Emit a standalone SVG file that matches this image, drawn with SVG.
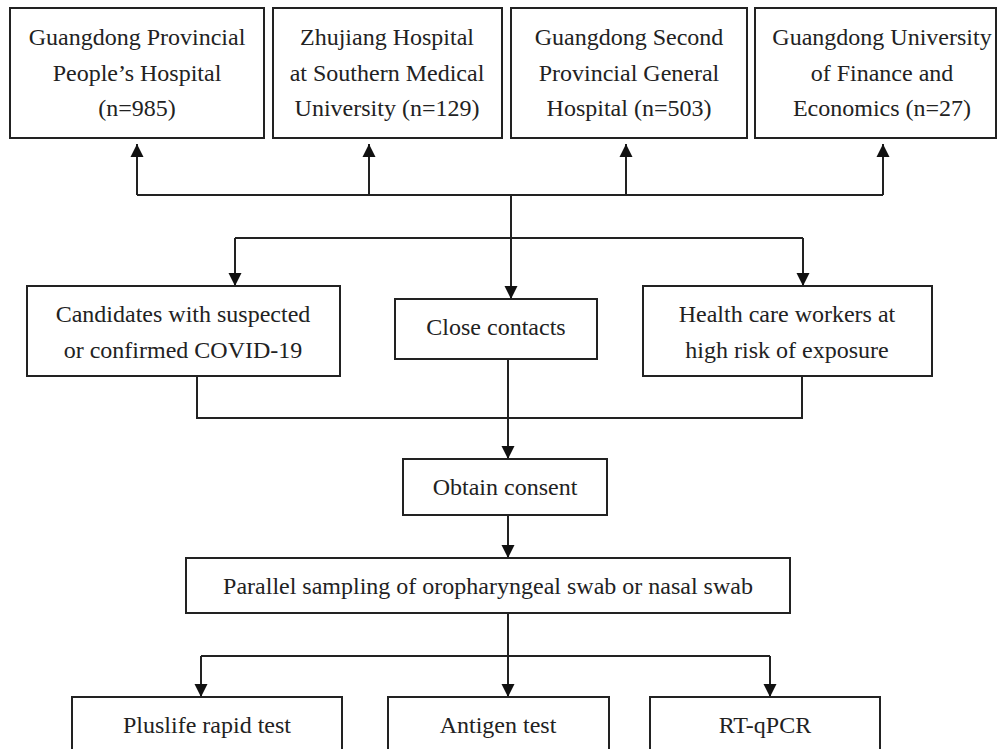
<svg xmlns="http://www.w3.org/2000/svg" width="1000" height="749" viewBox="0 0 1000 749">
<style>
.box{fill:#fff;stroke:#222;stroke-width:2}
.t{font-family:"Liberation Serif","Times New Roman",serif;font-size:24px;fill:#222;text-anchor:middle}
.c{fill:none;stroke:#222;stroke-width:2}
</style>
<defs>
<marker id="ah" markerUnits="userSpaceOnUse" markerWidth="14" markerHeight="14" refX="13" refY="7" orient="auto">
<path d="M0,0.5 L13,7 L0,13.5 z" fill="#111"/>
</marker>
</defs>
<rect width="1000" height="749" fill="#fff"/>
<g id="connectors">
<path class="c" d="M137,195 H883"/>
<path class="c" d="M137,195 V144" marker-end="url(#ah)"/>
<path class="c" d="M369,195 V144" marker-end="url(#ah)"/>
<path class="c" d="M626,195 V144" marker-end="url(#ah)"/>
<path class="c" d="M883,195 V144" marker-end="url(#ah)"/>
<path class="c" d="M511,195 V299" marker-end="url(#ah)"/>
<path class="c" d="M235,238 H803"/>
<path class="c" d="M235,238 V286" marker-end="url(#ah)"/>
<path class="c" d="M803,238 V286" marker-end="url(#ah)"/>
<path class="c" d="M197,376 V418 H802 V376"/>
<path class="c" d="M508,359 V459" marker-end="url(#ah)"/>
<path class="c" d="M508,515 V558" marker-end="url(#ah)"/>
<path class="c" d="M508,613 V697" marker-end="url(#ah)"/>
<path class="c" d="M201,656 H770"/>
<path class="c" d="M201,656 V697" marker-end="url(#ah)"/>
<path class="c" d="M770,656 V697" marker-end="url(#ah)"/>
</g>
<g id="n1"><rect class="box" x="10" y="8" width="254" height="130"/>
<text class="t" x="137" y="45">Guangdong Provincial</text>
<text class="t" x="137" y="81">People’s Hospital</text>
<text class="t" x="137" y="116">(n=985)</text></g>
<g id="n2"><rect class="box" x="273" y="8" width="229" height="130"/>
<text class="t" x="387" y="45">Zhujiang Hospital</text>
<text class="t" x="387" y="81">at Southern Medical</text>
<text class="t" x="387" y="116">University (n=129)</text></g>
<g id="n3"><rect class="box" x="511" y="8" width="236" height="130"/>
<text class="t" x="629" y="45">Guangdong Second</text>
<text class="t" x="629" y="81">Provincial General</text>
<text class="t" x="629" y="116">Hospital (n=503)</text></g>
<g id="n4"><rect class="box" x="755" y="8" width="241" height="130"/>
<text class="t" x="882" y="45">Guangdong University</text>
<text class="t" x="882" y="81">of Finance and</text>
<text class="t" x="882" y="116">Economics (n=27)</text></g>
<g id="n5"><rect class="box" x="27" y="286" width="313" height="90"/>
<text class="t" x="183" y="322">Candidates with suspected</text>
<text class="t" x="183" y="358">or confirmed COVID-19</text></g>
<g id="n6"><rect class="box" x="395" y="299" width="202" height="60"/>
<text class="t" x="496" y="335">Close contacts</text></g>
<g id="n7"><rect class="box" x="643" y="286" width="289" height="90"/>
<text class="t" x="787" y="322">Health care workers at</text>
<text class="t" x="787" y="358">high risk of exposure</text></g>
<g id="n8"><rect class="box" x="403" y="459" width="204" height="56"/>
<text class="t" x="505" y="495">Obtain consent</text></g>
<g id="n9"><rect class="box" x="186" y="558" width="604" height="55"/>
<text class="t" x="488" y="594">Parallel sampling of oropharyngeal swab or nasal swab</text></g>
<g id="n10"><rect class="box" x="72" y="697" width="270" height="70"/>
<text class="t" x="207" y="733">Pluslife rapid test</text></g>
<g id="n11"><rect class="box" x="388" y="697" width="221" height="70"/>
<text class="t" x="498" y="733">Antigen test</text></g>
<g id="n12"><rect class="box" x="650" y="697" width="230" height="70"/>
<text class="t" x="765" y="733">RT-qPCR</text></g>
</svg>
